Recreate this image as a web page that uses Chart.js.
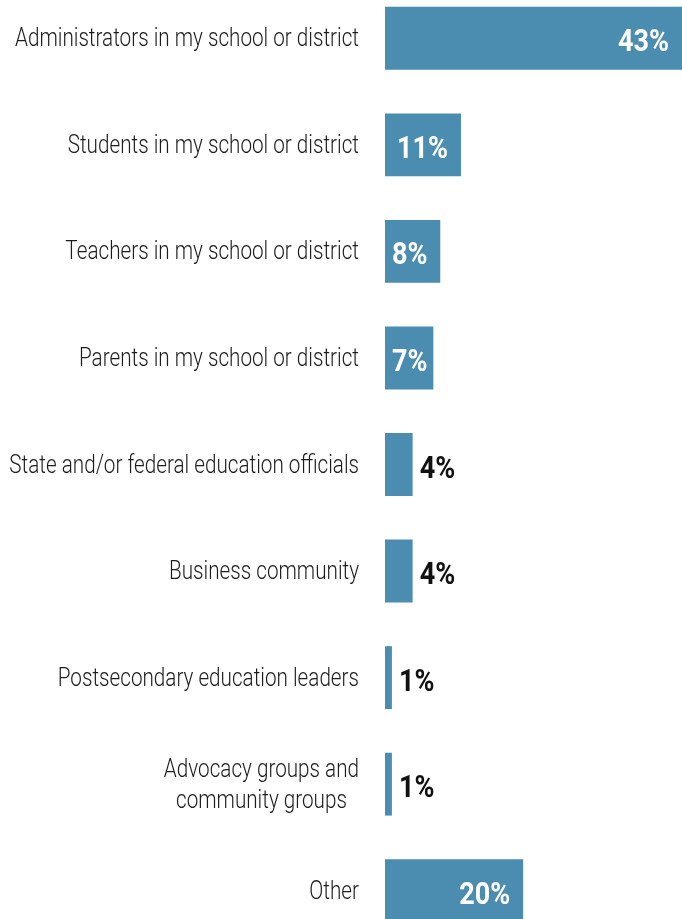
<!DOCTYPE html>
<html>
<head>
<meta charset="utf-8">
<script src="https://cdn.jsdelivr.net/npm/chart.js@4"></script>
<style>
  html, body { margin: 0; padding: 0; background: #fff; }
  #wrap { position: relative; width: 682px; height: 919px; overflow: hidden; }
  #wrap canvas { position: absolute; left: 0; top: -15px; }
</style>
</head>
<body>
<div id="wrap"><canvas id="groupChart" width="682" height="959"></canvas></div>
<script>
const categories = [
  ['Administrators in my school or district'],
  ['Students in my school or district'],
  ['Teachers in my school or district'],
  ['Parents in my school or district'],
  ['State and/or federal education officials'],
  ['Business community'],
  ['Postsecondary education leaders'],
  ['Advocacy groups and', 'community groups'],
  ['Other']
];
const shares = [43, 11, 8, 7, 4, 4, 1, 1, 20];
const valueLabels = ['43%', '11%', '8%', '7%', '4%', '4%', '1%', '1%', '20%'];

const BAR_BLUE = '#4a8db1';
const LABEL_RIGHT = 359;

// category names and percentages drawn by hand so they can be narrowed like a condensed face
const barText = {
  id: 'barText',
  afterDatasetsDraw(chart) {
    const ctx = chart.ctx;
    const yScale = chart.scales.y;
    const bars = chart.getDatasetMeta(0).data;

    ctx.save();
    ctx.font = '300 25px Roboto';
    const squeeze = 344 / ctx.measureText(categories[0][0]).width;
    ctx.fillStyle = '#1c1c1c';
    categories.forEach((lines, i) => {
      const cy = yScale.getPixelForValue(i);
      const widths = lines.map(l => ctx.measureText(l).width * squeeze);
      const blockW = Math.max(...widths);
      const mid = LABEL_RIGHT - blockW / 2;
      lines.forEach((line, j) => {
        const base = cy + 8 + (j - (lines.length - 1) / 2) * 31;
        ctx.save();
        ctx.translate(mid, base);
        ctx.scale(squeeze, 1);
        ctx.textAlign = 'center';
        ctx.textBaseline = 'alphabetic';
        ctx.fillText(line, 0, 0);
        ctx.restore();
      });
    });

    ctx.font = 'bold 32px Roboto';
    const vSqueeze = 51 / ctx.measureText('43%').width;
    bars.forEach((bar, i) => {
      const label = valueLabels[i];
      const w = ctx.measureText(label).width * vSqueeze;
      const inside = shares[i] >= 7;
      let x;
      if (inside) {
        x = Math.max(bar.x - 13, bar.base + 7 + w) - w;
        ctx.fillStyle = '#ffffff';
      } else {
        x = bar.x + 7;
        ctx.fillStyle = '#111111';
      }
      ctx.save();
      ctx.translate(x, bar.y + 13);
      ctx.scale(vSqueeze, 1);
      ctx.textAlign = 'left';
      ctx.textBaseline = 'alphabetic';
      ctx.fillText(label, 0, 0);
      ctx.restore();
    });
    ctx.restore();
  }
};

function draw() {
  new Chart(document.getElementById('groupChart'), {
    type: 'bar',
    data: {
      labels: categories,
      datasets: [{
        data: shares,
        backgroundColor: BAR_BLUE,
        borderWidth: 0,
        barPercentage: 0.59,
        categoryPercentage: 1
      }]
    },
    options: {
      indexAxis: 'y',
      responsive: false,
      animation: false,
      layout: { padding: { left: 385, right: 0, top: 0, bottom: 0 } },
      scales: {
        x: { display: false, min: 0, max: 43 },
        y: { display: false }
      },
      plugins: {
        legend: { display: false },
        tooltip: { enabled: false }
      }
    },
    plugins: [barText]
  });
}

Promise.all([
  document.fonts.load('300 25px Roboto'),
  document.fonts.load('bold 32px Roboto')
]).then(draw, draw);
</script>
</body>
</html>
